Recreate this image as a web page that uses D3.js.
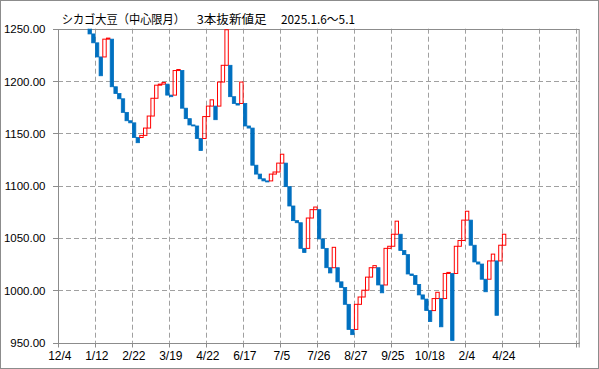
<!DOCTYPE html>
<html><head><meta charset="utf-8">
<script src="https://cdn.jsdelivr.net/npm/d3@7"></script>
<style>body{margin:0;background:#fff}svg{display:block}</style>
</head><body><svg id="c" width="599" height="369"></svg>
<script>
// ---- data ----
const titleMain = "シカゴ大豆（中心限月）";
const titleType = "3本抜新値足";
const titlePeriod = "2025.1.6～5.1";
const xTickLabels = ["12/4","1/12","2/22","3/19","4/22","6/17","7/5","7/26","8/27","9/25","10/18","2/4","4/24"];
const yTickValues = [950,1000,1050,1100,1150,1200,1250];
const startPrice = 1345;
// closing price of each new-price line (box), in order
const closes = [
 1336,1327,1318,1305,1293,1280,1268,1256,1245,1236.5,
 1223,1205,1240,1241,1194.5,1188,1183,1170,1162,1160,
 1146,1141,1148,1155,1166.5,1183.5,1196,1197,1198.5,1186.5,
 1185,1210,1211,1174,1164,1158,1157,1145,1133.5,1166,
 1176,1182,1163,1199,1215,1249,1185,1178.5,1177,1199,
 1157,1155,1119.5,1111,1106.5,1104.5,1103.5,1111,1113,1121.5,
 1130,1099,1080.5,1066.5,1064.5,1040,1036,1069,1077,1079.5,
 1049,1040,1021.5,1016.5,1041,1008,1002.5,986.5,962.5,957.5,
 986.5,993.5,1000,1012.5,1021.5,1023.5,1005,997.5,1040,1042,
 1053.5,1066,1038,1034,1015.5,1014,1005.5,995.5,991.5,980.5,
 970,992,998,965,1016,1017,952,1042,1047.5,1067,
 1075.5,1043,1027,1025,1010.5,998.5,1028,1034.5,976,1043,
 1053.5
];
const totalSlots = 141;
const labelStep = 10;

// ---- build boxes (three-line break: new box starts at edge of previous box) ----
const boxes = [];
let prevHi = startPrice, prevLo = startPrice;
closes.forEach((c, i) => {
  const open = c > prevHi ? prevHi : prevLo;
  const hi = Math.max(open, c), lo = Math.min(open, c);
  boxes.push({i, open, close: c, hi, lo, up: c > open});
  prevHi = hi; prevLo = lo;
});

// ---- chart ----
const svg = d3.select("#c");
const L = 58, R = 579.7, T = 28.7, B = 342.5;
const x = d3.scaleBand().domain(d3.range(totalSlots)).range([L, R]).padding(0);
const y = d3.scaleLinear().domain([950, 1250]).range([B, T]);
const gridC = "#a0a0a0", axisC = "#8c8c8c";

svg.append("rect").attr("x",0.5).attr("y",0.5).attr("width",598).attr("height",368)
  .attr("fill","#fff").attr("stroke","#8c8c8c");

// horizontal gridlines
svg.append("g").selectAll("line").data(yTickValues.filter(v => v > 950 && v < 1250)).join("line")
  .attr("x1", L).attr("x2", R).attr("y1", d => Math.round(y(d)) + 0.5).attr("y2", d => Math.round(y(d)) + 0.5)
  .attr("stroke", gridC).attr("stroke-dasharray", "5,3");

// vertical gridlines at every label step
const vIdx = d3.range(labelStep, totalSlots, labelStep);
svg.append("g").selectAll("line").data(vIdx).join("line")
  .attr("x1", d => Math.round(x(d)) + 0.5).attr("x2", d => Math.round(x(d)) + 0.5)
  .attr("y1", T).attr("y2", B)
  .attr("stroke", gridC).attr("stroke-dasharray", "5,3");

// plot frame
svg.append("rect").attr("x", L + 0.5).attr("y", Math.round(T) + 0.5)
  .attr("width", R - L - 1).attr("height", Math.round(B) - Math.round(T))
  .attr("fill","none").attr("stroke", axisC);

// boxes
svg.append("clipPath").attr("id","clip").append("rect")
  .attr("x", L).attr("y", T).attr("width", R - L).attr("height", B - T);
const gB = svg.append("g").attr("clip-path","url(#clip)");
gB.selectAll("rect").data(boxes).join("rect")
  .attr("x", d => x(d.i) + 0.4)
  .attr("width", x.bandwidth() - 0.3)
  .attr("y", d => y(d.hi))
  .attr("height", d => Math.max(1, y(d.lo) - y(d.hi)))
  .attr("fill", d => d.up ? "none" : "#0070c0")
  .attr("stroke", d => d.up ? "#ff0000" : "#0070c0")
  .attr("stroke-width", d => d.up ? 1 : 0.8);

// bottom ticks
svg.append("g").selectAll("line").data(d3.range(0, totalSlots, labelStep).concat([totalSlots])).join("line")
  .attr("x1", d => (d === totalSlots ? R - 0.5 : Math.round(x(d)) + 0.5))
  .attr("x2", d => (d === totalSlots ? R - 0.5 : Math.round(x(d)) + 0.5))
  .attr("y1", B).attr("y2", B + 5).attr("stroke", axisC);

// left ticks
svg.append("g").selectAll("line").data(yTickValues).join("line")
  .attr("x1", L - 5).attr("x2", L)
  .attr("y1", d => Math.round(y(d)) + 0.5).attr("y2", d => Math.round(y(d)) + 0.5)
  .attr("stroke", axisC);

// y labels
svg.append("g").selectAll("text").data(yTickValues).join("text")
  .attr("x", 45.5).attr("y", d => y(d) + 4.5)
  .attr("text-anchor","end")
  .attr("font-family","'Liberation Sans', Arial, sans-serif").attr("font-size", 11.5)
  .attr("fill","#000")
  .text(d => d3.format(".2f")(d));

// x labels
svg.append("g").selectAll("text").data(xTickLabels).join("text")
  .attr("x", (d, k) => x(k * labelStep) + x.bandwidth() / 2)
  .attr("y", 360)
  .attr("text-anchor","middle")
  .attr("font-family","'Liberation Sans', Arial, sans-serif").attr("font-size", 12)
  .attr("fill","#000")
  .text(d => d);

// title
const tf = "'Noto Sans CJK JP', sans-serif";
[[titleMain, 61.7, 123.3], [titleType, 196.7, 70], [titlePeriod, 281, 74]].forEach(([t, tx, tw]) => {
  svg.append("text").attr("x", tx).attr("y", 23.5)
    .attr("font-family", tf).attr("font-size", 12).attr("fill","#000")
    .attr("textLength", tw).attr("lengthAdjust","spacingAndGlyphs")
    .text(t);
});
</script></body></html>
